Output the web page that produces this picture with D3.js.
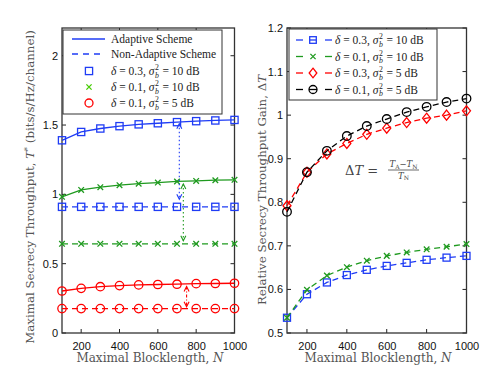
<!DOCTYPE html>
<html><head><meta charset="utf-8">
<script src="https://cdn.jsdelivr.net/npm/d3@7"></script>
<style>body{margin:0;background:#fff}</style></head>
<body><svg id="c" width="498" height="375"></svg>
<script>
// ---------------- DATA ----------------
const N = [100,200,300,400,500,600,700,800,900,1000];
// Left panel: maximal secrecy throughput
const adapt_03_10 = [1.39,1.45,1.475,1.492,1.505,1.513,1.521,1.528,1.533,1.537];
const nonad_03_10 = [0.91,0.91,0.91,0.91,0.91,0.91,0.91,0.91,0.91,0.91];
const adapt_01_10 = [0.982,1.032,1.052,1.066,1.077,1.085,1.093,1.097,1.102,1.105];
const nonad_01_10 = [0.643,0.643,0.643,0.643,0.643,0.643,0.643,0.643,0.643,0.643];
const adapt_01_5  = [0.303,0.322,0.334,0.342,0.347,0.350,0.352,0.356,0.357,0.359];
const nonad_01_5  = [0.176,0.176,0.176,0.176,0.176,0.176,0.176,0.176,0.176,0.176];
// Right panel: relative gain
const gain_03_10 = [0.535,0.589,0.616,0.633,0.645,0.654,0.661,0.668,0.673,0.677];
const gain_01_10 = [0.535,0.599,0.632,0.651,0.666,0.677,0.685,0.692,0.698,0.704];
const gain_03_5  = [0.792,0.869,0.911,0.935,0.956,0.970,0.983,0.993,1.000,1.010];
const gain_01_5  = [0.778,0.869,0.918,0.952,0.975,0.991,1.007,1.019,1.030,1.038];
// ticks
const xTicks = [200,400,600,800,1000];
const yTicksL = [0,0.5,1,1.5,2];
const yTicksR = [0.5,0.6,0.7,0.8,0.9,1,1.1,1.2];
// annotation arrows (N, from, to)
const arrowN    = [712, 733, 750];
const arrowFrom = [1.51, 1.075, 0.335];
const arrowTo   = [0.965, 0.665, 0.19];

// ---------------- STYLE ----------------
const BLUE="#1f3cf5", GREEN="#1f9a1f", RED="#ff0000", BLACK="#000000";
const svg = d3.select("#c");
const SERIF = "DejaVu Serif", LSERIF="Liberation Serif", SANS="Liberation Sans";

const xL = d3.scaleLinear().domain([100,1000]).range([62,234.5]);
const yL = d3.scaleLinear().domain([0,2.2]).range([333,28]);
const xR = d3.scaleLinear().domain([100,1000]).range([287,466.5]);
const yR = d3.scaleLinear().domain([0.5,1.2]).range([333,28]);

function frame(x, y, yt, fmt){
  const g = svg.append("g");
  const [x0,x1]=x.range(), [y0,y1]=y.range();
  xTicks.forEach(t=>{
    g.append("line").attr("x1",x(t)).attr("x2",x(t)).attr("y1",y0).attr("y2",y0-4).attr("stroke","#222");
    g.append("line").attr("x1",x(t)).attr("x2",x(t)).attr("y1",y1).attr("y2",y1+4).attr("stroke","#222");
  });
  yt.forEach(t=>{
    g.append("line").attr("x1",x0).attr("x2",x0+4).attr("y1",y(t)).attr("y2",y(t)).attr("stroke","#222");
    g.append("line").attr("x1",x1).attr("x2",x1-4).attr("y1",y(t)).attr("y2",y(t)).attr("stroke","#222");
  });
  g.append("rect").attr("x",x0).attr("y",y1).attr("width",x1-x0).attr("height",y0-y1)
    .attr("fill","none").attr("stroke","#333").attr("stroke-width",1.3);
  const ax = svg.append("g").attr("transform",`translate(0,${y0})`)
    .call(d3.axisBottom(x).tickValues(xTicks).tickSize(0).tickPadding(9).tickFormat(d3.format("d")));
  ax.select(".domain").remove();
  ax.selectAll("text").attr("font-family",SANS).attr("font-size",11).attr("fill","#111");
  const ay = svg.append("g").attr("transform",`translate(${x0},0)`)
    .call(d3.axisLeft(y).tickValues(yt).tickSize(0).tickPadding(4).tickFormat(fmt));
  ay.select(".domain").remove();
  ay.selectAll("text").attr("font-family",SANS).attr("font-size",11).attr("fill","#111");
}

function marker(g, kind, cx, cy, color, s){
  if(kind==="sq") g.append("rect").attr("x",cx-s).attr("y",cy-s).attr("width",2*s).attr("height",2*s)
      .attr("fill","none").attr("stroke",color).attr("stroke-width",1.3);
  else if(kind==="ci") g.append("circle").attr("cx",cx).attr("cy",cy).attr("r",s)
      .attr("fill","none").attr("stroke",color).attr("stroke-width",1.3);
  else if(kind==="di") g.append("path").attr("d",`M${cx},${cy-s}L${cx+s*0.8},${cy}L${cx},${cy+s}L${cx-s*0.8},${cy}Z`)
      .attr("fill","none").attr("stroke",color).attr("stroke-width",1.3);
  else if(kind==="x") g.append("path").attr("d",`M${cx-s},${cy-s}L${cx+s},${cy+s}M${cx-s},${cy+s}L${cx+s},${cy-s}`)
      .attr("fill","none").attr("stroke",color).attr("stroke-width",1.3);
}

function series(x, y, vals, color, dash, kind, s){
  const g = svg.append("g");
  const line = d3.line().x((d,i)=>x(N[i])).y(d=>y(d));
  g.append("path").datum(vals).attr("d",line).attr("fill","none").attr("stroke",color)
    .attr("stroke-width",1.3).attr("stroke-dasharray",dash||null);
  vals.forEach((v,i)=>marker(g,kind,x(N[i]),y(v),color,s));
}

// ---------------- LEFT PANEL ----------------
frame(xL,yL,yTicksL,d=>d3.format("")(d));
series(xL,yL,adapt_03_10,BLUE,null,"sq",3.6);
series(xL,yL,nonad_03_10,BLUE,"6,4","sq",3.6);
series(xL,yL,adapt_01_10,GREEN,null,"x",2.8);
series(xL,yL,nonad_01_10,GREEN,"6,4","x",2.8);
series(xL,yL,adapt_01_5,RED,null,"ci",4.2);
series(xL,yL,nonad_01_5,RED,"6,4","ci",4.2);

const arrowCol=[BLUE,GREEN,RED], arrowDash=["1.5,2.5","1.5,2.5","3,2,1,2"];
arrowN.forEach((n,i)=>{
  const ax=xL(n), ya=yL(arrowFrom[i]), yb=yL(arrowTo[i]);
  const g=svg.append("g").attr("stroke",arrowCol[i]).attr("fill","none").attr("stroke-width",1.1);
  g.append("line").attr("x1",ax).attr("x2",ax).attr("y1",ya).attr("y2",yb).attr("stroke-dasharray",arrowDash[i]);
  g.append("path").attr("d",`M${ax-2.5},${ya+5}L${ax},${ya}L${ax+2.5},${ya+5}`);
  g.append("path").attr("d",`M${ax-2.5},${yb-5}L${ax},${yb}L${ax+2.5},${yb-5}`);
});

function mathLegend(x, y, d, dB, size){
  const t = svg.append("text").attr("x",x).attr("y",y).attr("font-family",LSERIF).attr("font-size",size).attr("fill","#222");
  t.append("tspan").attr("font-style","italic").text("δ");
  t.append("tspan").text(` = ${d}, `);
  t.append("tspan").attr("font-style","italic").text("σ");
  const w = t.node().getComputedTextLength();
  svg.append("text").attr("x",x+w+0.5).attr("y",y-5).attr("font-family",LSERIF).attr("font-size",size*0.68).attr("fill","#222").text("2");
  svg.append("text").attr("x",x+w+0.5).attr("y",y+2.5).attr("font-family",LSERIF).attr("font-style","italic").attr("font-size",size*0.68).attr("fill","#222").text("b");
  svg.append("text").attr("x",x+w+8).attr("y",y).attr("font-family",LSERIF).attr("font-size",size).attr("fill","#222").text(`= ${dB} dB`);
}

// left legend
const lg = svg.append("g");
lg.append("rect").attr("x",63).attr("y",30).attr("width",159).attr("height",84).attr("fill","#fff").attr("stroke","#333").attr("stroke-width",1);
lg.append("line").attr("x1",72).attr("x2",105).attr("y1",39).attr("y2",39).attr("stroke",BLUE).attr("stroke-width",1.3);
lg.append("line").attr("x1",72).attr("x2",105).attr("y1",54).attr("y2",54).attr("stroke",BLUE).attr("stroke-width",1.3).attr("stroke-dasharray","6,5");
marker(lg,"sq",89,71,BLUE,3.6);
marker(lg,"x",89,87,"#44cc00",2.6);
marker(lg,"ci",89,103,RED,4);
[["Adaptive Scheme",43],["Non-Adaptive Scheme",58]].forEach(([s,yy])=>
  lg.append("text").attr("x",111).attr("y",yy).attr("font-family",LSERIF).attr("font-size",11.5).attr("fill","#222").text(s));
mathLegend(111,75,"0.3",10,11.5);
mathLegend(111,91,"0.1",10,11.5);
mathLegend(111,107,"0.1",5,11.5);

const xlab = (cx)=>{ const t=svg.append("text").attr("x",cx).attr("y",362).attr("text-anchor","middle")
  .attr("font-family",SERIF).attr("font-size",12).attr("fill","#555");
  t.append("tspan").text("Maximal Blocklength, "); t.append("tspan").attr("font-style","italic").text("N"); };
xlab(150); xlab(378);
{
  const t=svg.append("text").attr("transform","translate(34,187) rotate(-90)").attr("text-anchor","middle")
    .attr("font-family",SERIF).attr("font-size",11.8).attr("fill","#555");
  t.append("tspan").text("Maximal Secrecy Throughput, ");
  t.append("tspan").attr("font-style","italic").text("T");
  t.append("tspan").attr("dy",-4).attr("font-size",8).text("*");
  t.append("tspan").attr("dy",4).text(" (bits/s/Hz/channel)");
}

// ---------------- RIGHT PANEL ----------------
frame(xR,yR,yTicksR,d=>d3.format("")(+d.toFixed(1)));
series(xR,yR,gain_03_10,BLUE,"6,4","sq",3.5);
series(xR,yR,gain_01_10,GREEN,"6,4","x",2.8);
series(xR,yR,gain_03_5,RED,"6,4","di",5);
series(xR,yR,gain_01_5,BLACK,"6,4","ci",4.3);

const rg = svg.append("g");
rg.append("rect").attr("x",289).attr("y",29).attr("width",148).attr("height",71).attr("fill","#fff").attr("stroke","#333").attr("stroke-width",1);
const rl = [[BLUE,"sq",3.3,"0.3",10],[GREEN,"x",2.6,"0.1",10],[RED,"di",4.8,"0.3",5],[BLACK,"ci",4,"0.1",5]];
rl.forEach(([c,k,s,d,db],i)=>{
  const yy = 40 + i*16.5;
  rg.append("line").attr("x1",296).attr("x2",303).attr("y1",yy).attr("y2",yy).attr("stroke",c).attr("stroke-width",1.3);
  rg.append("line").attr("x1",325).attr("x2",332).attr("y1",yy).attr("y2",yy).attr("stroke",c).attr("stroke-width",1.3);
  marker(rg,k,313,yy,c,s);
  if(k==="sq"||k==="ci") rg.append("line").attr("x1",313-s).attr("x2",313+s).attr("y1",yy).attr("y2",yy).attr("stroke",c).attr("stroke-width",1.3);
  mathLegend(335,yy+4,d,db,11.5);
});

{
  const t=svg.append("text").attr("transform","translate(266,190) rotate(-90)").attr("text-anchor","middle")
    .attr("font-family",SERIF).attr("font-size",11.8).attr("fill","#555");
  t.append("tspan").text("Relative Secrecy Throughput Gain, Δ");
  t.append("tspan").attr("font-style","italic").text("T");
}
{
  const f = svg.append("g").attr("fill","#444").attr("font-family",SERIF);
  const t = f.append("text").attr("x",345).attr("y",175).attr("font-size",13);
  t.append("tspan").text("Δ"); t.append("tspan").attr("font-style","italic").text("T");
  t.append("tspan").text(" =");
  const num = f.append("text").attr("x",403.5).attr("y",167).attr("text-anchor","middle").attr("font-size",8.5);
  num.append("tspan").attr("font-style","italic").text("T");
  num.append("tspan").attr("dy",1.5).attr("font-size",6).text("A");
  num.append("tspan").attr("dy",-1.5).text("−");
  num.append("tspan").attr("font-style","italic").text("T");
  num.append("tspan").attr("dy",1.5).attr("font-size",6).text("N");
  f.append("line").attr("x1",388).attr("x2",419).attr("y1",170).attr("y2",170).attr("stroke","#444").attr("stroke-width",0.8);
  const den = f.append("text").attr("x",403.5).attr("y",178.5).attr("text-anchor","middle").attr("font-size",8.5);
  den.append("tspan").attr("font-style","italic").text("T");
  den.append("tspan").attr("dy",1.5).attr("font-size",6).text("N");
}
</script></body></html>
